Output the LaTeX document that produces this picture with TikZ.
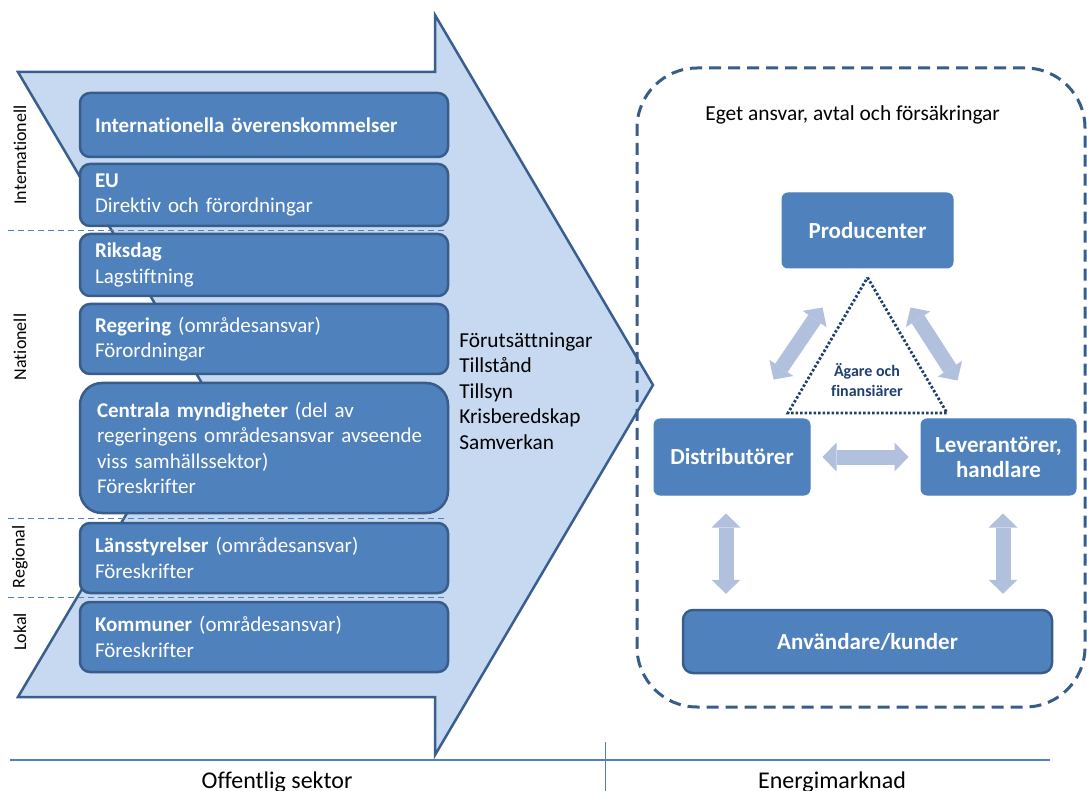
\documentclass[tikz,border=0pt]{standalone}
\usepackage{fontspec}
\setmainfont{Carlito}[Ligatures=NoCommon]
\usepackage{xcolor}
\usepackage{tikz}
\usetikzlibrary{positioning}
\usetikzlibrary{calc}
\usetikzlibrary{arrows.meta}

\definecolor{boxblue}{RGB}{79,129,189}
\definecolor{boxedge}{RGB}{56,93,138}
\definecolor{chevfill}{RGB}{198,217,240}
\definecolor{chevedge}{RGB}{58,95,142}
\definecolor{flowgray}{RGB}{176,192,221}
\definecolor{ownerblue}{RGB}{31,63,110}

\begin{document}
\begin{tikzpicture}[x=1pt,y=-1pt,semithick]
    \tikzstyle{lvlbox}=[draw=boxedge, line width=2.5pt, fill=boxblue, rounded corners=10pt, text=white,
        text width=338pt, inner xsep=15pt, inner ysep=0pt, align=left, font=\fontsize{21}{25.6}\selectfont]
    \tikzstyle{sidelbl}=[rotate=90, inner sep=0pt, font=\fontsize{18}{20}\selectfont]
    \tikzstyle{levelsep}=[draw=boxblue, line width=1pt, dash pattern=on 6pt off 4pt]
    \tikzstyle{mktbox}=[draw=boxblue, line width=1pt, fill=boxblue, rounded corners=6pt, text=white,
        align=center, font=\bfseries\fontsize{23}{25}\selectfont]
    \tikzstyle{flow}=[draw=flowgray, line width=15pt,
        {Triangle[length=14pt,width=29pt,line width=0pt]}-{Triangle[length=14pt,width=29pt,line width=0pt]}]
    \useasboundingbox (0,0) rectangle (1087,791);

    % offentlig sektor
    \draw[draw=chevedge, fill=chevfill, line width=2.5pt, line join=miter]
        (18,72) -- (435,72) -- (435,15) -- (653,385) -- (435,755) -- (435,697) -- (18,697) -- (203,385) -- cycle;
    \foreach \yy in {231,518,597}
        \draw[levelsep] (8,\yy) -- (448,\yy);

    \node[lvlbox, minimum height=64pt] (intl) at (264,125) {\textbf{Internationella överenskommelser}};
    \node[lvlbox, minimum height=62pt] (eu) at (264,195) {\textbf{EU}\\Direktiv och förordningar};
    \node[lvlbox, minimum height=62pt] (riksdag) at (264,265) {\textbf{Riksdag}\\Lagstiftning};
    \node[lvlbox, minimum height=70pt] (regering) at (264,339) {\textbf{Regering} (områdesansvar)\\Förordningar};
    \node[lvlbox, minimum height=130pt, rounded corners=22pt, text width=334pt, inner xsep=17pt] (centrala) at (264,448)
        {\textbf{Centrala myndigheter} (del av\\regeringens områdesansvar avseende\\viss samhällssektor)\\Föreskrifter};
    \node[lvlbox, minimum height=70pt] (lan) at (264,558) {\textbf{Länsstyrelser} (områdesansvar)\\Föreskrifter};
    \node[lvlbox, minimum height=70pt] (kommun) at (264,637) {\textbf{Kommuner} (områdesansvar)\\Föreskrifter};

    \node[sidelbl] (lblint) at (20,155) {Internationell};
    \node[sidelbl] (lblnat) at (20,347) {Nationell};
    \node[sidelbl] (lblreg) at (20,557) {Regional};
    \node[sidelbl] (lbllok) at (20,632) {Lokal};

    \node[anchor=west, align=left, inner sep=0pt, font=\fontsize{21.3}{25.6}\selectfont] (villkor) at (459,391)
        {Förutsättningar\\Tillstånd\\Tillsyn\\Krisberedskap\\Samverkan};

    % energimarknad
    \node[draw=boxedge, line width=3pt, dash pattern=on 12pt off 7pt, rounded corners=60pt,
        minimum width=448pt, minimum height=639pt] (market) at (861,387.5) {};
    \node[anchor=west, inner sep=0pt, font=\fontsize{21.4}{24}\selectfont] (ansvar) at (705,115)
        {Eget ansvar, avtal och försäkringar};

    \node[mktbox, minimum width=171pt, minimum height=75pt] (prod) at (867.5,230.5) {Producenter};
    \node[mktbox, minimum width=156pt, minimum height=76pt] (dist) at (732,457) {Distributörer};
    \node[mktbox, minimum width=155pt, minimum height=76pt] (lev) at (998.5,457) {Leverantörer,\\handlare};
    \node[mktbox, draw=boxedge, line width=2.5pt, rounded corners=10pt, minimum width=369pt, minimum height=63pt]
        (user) at (867.5,641.5) {Användare/kunder};

    \draw[draw=ownerblue, line width=2.8pt, dash pattern=on 2.5pt off 2pt]
        ($(prod.south)+(0,9)$) -- (947,413) -- (788,413) -- cycle;
    \node[align=center, text=ownerblue, font=\bfseries\fontsize{16}{20}\selectfont] (owners) at (867,380)
        {Ägare och\\finansiärer};

    \coordinate (pdl) at ($(prod.south west)+(41,39)$);
    \coordinate (dpr) at ($(dist.north east)+(-37,-39)$);
    \coordinate (pdr) at ($(prod.south east)+(-43,39)$);
    \coordinate (lpl) at ($(lev.north west)+(37,-38)$);
    \draw[flow] (pdl) -- (dpr);
    \draw[flow] (pdr) -- (lpl);
    \draw[flow, shorten <=12pt, shorten >=12pt] (dist) -- (lev);
    \draw[flow, shorten <=18pt, shorten >=15pt] ([xshift=-6pt]dist.south) -- ([xshift=-6pt]dist.south |- user.north);
    \draw[flow, shorten <=18pt, shorten >=15pt] ([xshift=4.5pt]lev.south) -- ([xshift=4.5pt]lev.south |- user.north);

    % sektorer
    \draw[draw=boxblue, line width=1.2pt] (10,760) -- (1050,760);
    \draw[draw=boxblue, line width=1pt] (605,742) -- (605,791);
    \node[font=\fontsize{24}{26}\selectfont] (pubsec) at (277,782) {Offentlig sektor};
    \node[font=\fontsize{24}{26}\selectfont] (energy) at (832,782) {Energimarknad};
\end{tikzpicture}
\end{document}
